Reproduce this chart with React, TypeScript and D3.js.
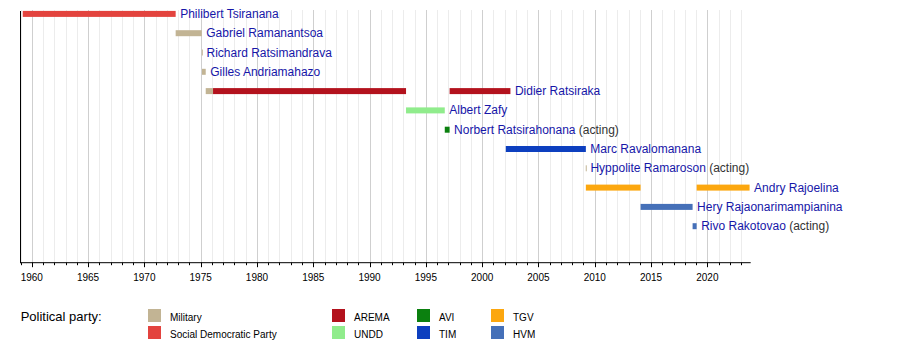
import React from "react";
import * as d3 from "d3";

const parties = ["Military", "Social Democratic Party", "AREMA", "UNDD", "AVI", "TIM", "TGV", "HVM"];
const partyColors = ["#c2b494", "#e3433e", "#b3121d", "#90ec8c", "#0b800f", "#0d3fbf", "#fca70f", "#4570b8"];

const presidents = [
  "Philibert Tsiranana",
  "Gabriel Ramanantsoa",
  "Richard Ratsimandrava",
  "Gilles Andriamahazo",
  "Didier Ratsiraka",
  "Albert Zafy",
  "Norbert Ratsirahonana",
  "Marc Ravalomanana",
  "Hyppolite Ramaroson",
  "Andry Rajoelina",
  "Hery Rajaonarimampianina",
  "Rivo Rakotovao",
];
const acting = [false, false, false, false, false, false, true, false, true, false, false, true];

// term segments: [president index, party, start (decimal year), end]
const termPresident = [0, 1, 2, 3, 4, 4, 4, 5, 6, 7, 8, 9, 9, 10, 11];
const termParty = [
  "Social Democratic Party", "Military", "Military", "Military", "Military", "AREMA", "AREMA",
  "UNDD", "AVI", "TIM", "Military", "TGV", "TGV", "HVM", "HVM",
];
const termStart = [1959.2, 1972.78, 1975.1, 1975.12, 1975.45, 1976.1, 1997.11, 1993.24, 1996.68, 2002.1, 2009.2, 2009.21, 2019.05, 2014.07, 2018.69];
const termEnd = [1972.78, 1975.1, 1975.12, 1975.45, 1976.1, 1993.24, 2002.51, 1996.68, 1997.11, 2009.21, 2009.22, 2014.07, 2023.75, 2018.69, 2019.05];

const yearStart = 1959;
const yearEnd = 2023.85;
const majorYears = d3.range(1960, 2021, 5);
const minorYears = d3.range(1959, 2024, 1);

const legendHeader = "Political party:";

export default function App() {
  const W = 900;
  const H = 342;
  const x = d3.scaleLinear().domain([yearStart, yearEnd]).range([20.5, 750.7]);
  const y = d3.scalePoint<string>().domain(presidents).range([13.9, 226.2]);
  const color = d3.scaleOrdinal<string, string>().domain(parties).range(partyColors);
  const axisY = 262.7;
  const barH = 6;
  const font = "'Liberation Sans', Arial, sans-serif";

  // last end per president for label
  const lastEnd = presidents.map((_, i) =>
    d3.max(termEnd.filter((_, k) => termPresident[k] === i)) as number
  );

  const legendCols = [148, 332, 417, 491];
  const legendRows = [309, 326];

  return (
    <svg width={W} height={H} style={{ position: "absolute", left: 0, top: 0, background: "#fff" }} fontFamily={font}>
      <rect x={0} y={0} width={W} height={H} fill="#fff" />
      {/* minor grid */}
      {minorYears.map((yr) => (
        <line key={"m" + yr} x1={Math.round(x(yr)) + 0.5} x2={Math.round(x(yr)) + 0.5} y1={10} y2={axisY} stroke="#ececec" strokeWidth={1} />
      ))}
      {majorYears.map((yr) => (
        <line key={"M" + yr} x1={Math.round(x(yr)) + 0.5} x2={Math.round(x(yr)) + 0.5} y1={10} y2={axisY} stroke="#cfcfcf" strokeWidth={1} />
      ))}
      {/* bars */}
      {termPresident.map((pi, k) => {
        const x0 = x(termStart[k]);
        const x1 = x(termEnd[k]);
        return (
          <rect
            key={"b" + k}
            x={x0}
            y={(y(presidents[pi]) as number) - barH / 2}
            width={Math.max(1, x1 - x0)}
            height={barH}
            fill={color(termParty[k])}
          />
        );
      })}
      {/* labels */}
      {presidents.map((name, i) => (
        <text key={"l" + i} x={x(lastEnd[i]) + 4.5} y={(y(name) as number) + 4} fontSize={12} fill="#1616a8">
          {name}
          {acting[i] ? <tspan fill="#333"> (acting)</tspan> : null}
        </text>
      ))}
      {/* axes */}
      <line x1={20.5} x2={20.5} y1={11} y2={axisY + 0.5} stroke="#000" strokeWidth={1} />
      <line x1={20.5} x2={x(yearEnd)} y1={axisY} y2={axisY} stroke="#000" strokeWidth={1} />
      {minorYears.map((yr) => (
        <line key={"t" + yr} x1={Math.round(x(yr)) + 0.5} x2={Math.round(x(yr)) + 0.5} y1={axisY} y2={axisY + 2.5} stroke="#000" strokeWidth={1} />
      ))}
      {majorYears.map((yr) => (
        <g key={"T" + yr}>
          <line x1={Math.round(x(yr)) + 0.5} x2={Math.round(x(yr)) + 0.5} y1={axisY} y2={axisY + 4.5} stroke="#000" strokeWidth={1} />
          <text x={x(yr)} y={281.3} fontSize={10} textAnchor="middle" fill="#000">
            {yr}
          </text>
        </g>
      ))}
      {/* legend */}
      <text x={20.7} y={320.6} fontSize={13} fill="#000">
        {legendHeader}
      </text>
      {parties.map((p, i) => {
        const col = Math.floor(i / 2);
        const row = i % 2;
        const sx = legendCols[col];
        const sy = legendRows[row];
        return (
          <g key={"lg" + i}>
            <rect x={sx} y={sy} width={13} height={13} fill={color(p)} />
            <text x={sx + 22} y={sy + 11.5} fontSize={10} fill="#000">
              {p}
            </text>
          </g>
        );
      })}
    </svg>
  );
}
